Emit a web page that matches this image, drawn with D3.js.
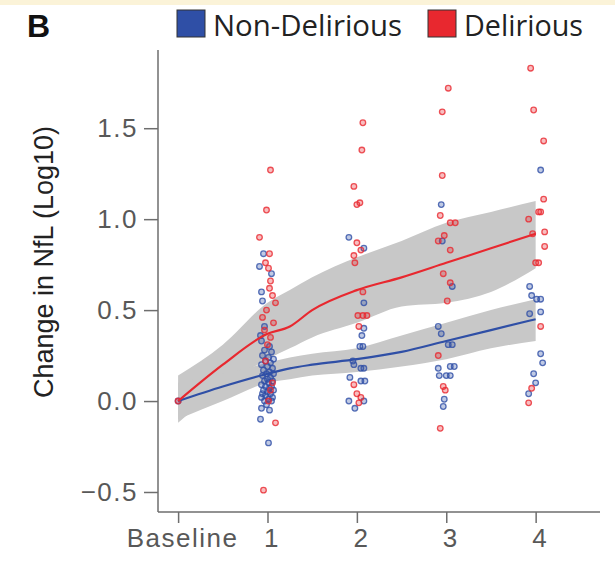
<!DOCTYPE html>
<html lang="en">
<head>
  <meta charset="UTF-8">
  <title>Change in NfL by delirium status</title>
  <style>
    body { margin: 0; background: #fff; }
    svg { display: block; }
  </style>
</head>
<body>
  <svg id="chart" width="615" height="567"></svg>

  <script src="https://d3js.org/d3.v7.min.js"></script>
  <script>
    // visit ticks (0 = baseline)
    const timeTicks = [0, 1, 2, 3, 4];
    const timeLabels = ["Baseline", "1", "2", "3", "4"];
    const yTicks = [-0.5, 0, 0.5, 1.0, 1.5];

    // smoothed fit with confidence band
    const fitTimes   = [0, 0.5, 1, 1.25, 1.5, 2, 2.5, 3, 3.5, 4];
    const redFit     = [0, 0.2, 0.37, 0.41, 0.5, 0.61, 0.68, 0.76, 0.84, 0.92];
    const redLow     = [-0.12, 0.08, 0.23, 0.29, 0.35, 0.43, 0.52, 0.54, 0.6, 0.73];
    const redHigh    = [0.14, 0.31, 0.54, 0.61, 0.68, 0.79, 0.88, 0.98, 1.04, 1.1];
    const blueFit    = [0, 0.08, 0.15, 0.18, 0.2, 0.23, 0.27, 0.33, 0.39, 0.45];
    const blueLow    = [-0.1, 0.0, 0.1, 0.12, 0.14, 0.16, 0.19, 0.23, 0.29, 0.33];
    const blueHigh   = [0.1, 0.15, 0.21, 0.24, 0.26, 0.29, 0.36, 0.43, 0.5, 0.56];

    // points: [visit, jitter (px), change]
    const redPoints = [
      [0, 0, 0],
      [1, 3, 1.27], [1, -1, 1.05], [1, -8, 0.9], [1, 2, 0.81], [1, -2, 0.76], [1, 1, 0.73],
      [1, 3, 0.66], [1, 2, 0.62], [1, 5, 0.58], [1, 8, 0.54], [1, -1, 0.5], [1, -5, 0.46],
      [1, 6, 0.43], [1, -3, 0.39], [1, 3, 0.35], [1, 0, 0.31], [1, -2, 0.22], [1, 5, 0.1],
      [1, 3, 0.06], [1, 1, 0.0], [1, 8, -0.12], [1, -4, -0.49],
      [2, 6, 1.53], [2, 5, 1.38], [2, -3, 1.18], [2, 0, 1.08], [2, 3, 1.09], [2, 0, 0.87],
      [2, 4, 0.83], [2, -3, 0.8], [2, -2, 0.76], [2, 6, 0.6], [2, 1, 0.47], [2, 6, 0.47],
      [2, 10, 0.47], [2, 2, 0.41], [2, -3, 0.09], [2, 0, 0.04], [2, 4, 0.02], [2, 2, -0.01],
      [3, 2, 1.72], [3, -4, 1.59], [3, -4, 1.24], [3, -6, 1.02], [3, 4, 0.98], [3, 9, 0.98],
      [3, -2, 0.91], [3, -8, 0.88], [3, 4, 0.83], [3, -3, 0.7], [3, 4, 0.65], [3, 1, 0.55],
      [3, -8, 0.25], [3, -3, 0.08], [3, -1, 0.06], [3, -6, -0.15],
      [4, -5, 1.83], [4, -2, 1.6], [4, 8, 1.43], [4, 8, 1.11], [4, 5, 1.04], [4, 3, 1.04],
      [4, -7, 1.0], [4, -3, 0.92], [4, 9, 0.93], [4, 9, 0.85], [4, 0, 0.76], [4, 3, 0.76],
      [4, 5, 0.41], [4, -4, 0.07], [4, -7, -0.01]
    ];
    const bluePoints = [
      [0, 0, 0],
      [1, -4, 0.81], [1, -8, 0.74], [1, 4, 0.7], [1, -6, 0.6], [1, -5, 0.55], [1, -3, 0.41],
      [1, -7, 0.36], [1, -6, 0.33], [1, 2, 0.3], [1, -3, 0.28], [1, 4, 0.27], [1, -5, 0.25],
      [1, 1, 0.24], [1, 6, 0.23], [1, -2, 0.22], [1, 3, 0.21], [1, -6, 0.2], [1, 0, 0.19],
      [1, 5, 0.18], [1, -4, 0.17], [1, 2, 0.16], [1, -1, 0.15], [1, 6, 0.15], [1, -5, 0.14],
      [1, 3, 0.13], [1, 0, 0.12], [1, -3, 0.11], [1, 5, 0.11], [1, 1, 0.1], [1, -6, 0.09],
      [1, 4, 0.08], [1, -2, 0.08], [1, 2, 0.07], [1, -4, 0.06], [1, 6, 0.06], [1, 0, 0.05],
      [1, -5, 0.04], [1, 3, 0.04], [1, -2, 0.03], [1, 5, 0.02], [1, -6, 0.02], [1, 1, 0.01],
      [1, -3, 0.0], [1, 4, 0.0], [1, -1, -0.02], [1, -6, -0.04], [1, 2, -0.05], [1, -7, -0.1],
      [1, 1, -0.23],
      [2, -8, 0.9], [2, 7, 0.84], [2, 7, 0.54], [2, 7, 0.4], [2, 5, 0.36], [2, 3, 0.3],
      [2, 6, 0.3], [2, -4, 0.22], [2, -3, 0.2], [2, 4, 0.18], [2, 7, 0.18], [2, -7, 0.13],
      [2, 4, 0.11], [2, 8, 0.11], [2, 7, 0.0], [2, -8, 0.0], [2, -2, -0.04],
      [3, -5, 1.08], [3, -4, 0.88], [3, 6, 0.63], [3, -8, 0.41], [3, -5, 0.37], [3, 6, 0.31],
      [3, 2, 0.31], [3, -8, 0.18], [3, 4, 0.19], [3, 8, 0.19], [3, -7, 0.14], [3, 0, 0.14],
      [3, 4, 0.14], [3, -2, 0.01], [3, -3, -0.03],
      [4, 5, 1.27], [4, -6, 0.63], [4, -4, 0.58], [4, 1, 0.56], [4, 5, 0.56], [4, 5, 0.49],
      [4, -6, 0.48], [4, 5, 0.26], [4, 7, 0.21], [4, -2, 0.15], [4, 0, 0.1], [4, -7, 0.04]
    ];

    const red = "#e8282f", blue = "#2f4fa6";
    const font = "'Liberation Sans', Arial, sans-serif";
    const svg = d3.select("#chart");

    // thin pale strip along the top of the figure
    svg.append("rect").attr("x", 0).attr("y", 0).attr("width", 615).attr("height", 5)
      .attr("fill", "#fbf3d8");

    const x = d3.scaleLinear().domain([-0.225, 4.72]).range([158, 600]);
    const y = d3.scaleLinear().domain([-0.61, 1.93]).range([512, 50]);

    // bands
    function band(low, high) {
      return d3.area()
        .x((d, i) => x(fitTimes[i]))
        .y0((d, i) => y(low[i]))
        .y1((d, i) => y(high[i]))
        .curve(d3.curveMonotoneX)(fitTimes);
    }
    svg.append("path").attr("d", band(redLow, redHigh)).attr("fill", "#c8c8c8");
    svg.append("path").attr("d", band(blueLow, blueHigh)).attr("fill", "#c8c8c8");

    // points
    function drawPoints(pts, color) {
      svg.append("g").selectAll("circle").data(pts).join("circle")
        .attr("cx", d => x(d[0]) + d[1])
        .attr("cy", d => y(d[2]))
        .attr("r", 2.8)
        .attr("fill", color).attr("fill-opacity", 0.3)
        .attr("stroke", color).attr("stroke-opacity", 0.8).attr("stroke-width", 1.3);
    }
    drawPoints(bluePoints, blue);
    drawPoints(redPoints, red);

    // fit lines
    const line = vals => d3.line()
      .x((d, i) => x(fitTimes[i]))
      .y((d, i) => y(vals[i]))
      .curve(d3.curveMonotoneX)(fitTimes);
    svg.append("path").attr("d", line(blueFit)).attr("fill", "none")
      .attr("stroke", blue).attr("stroke-width", 2.2);
    svg.append("path").attr("d", line(redFit)).attr("fill", "none")
      .attr("stroke", red).attr("stroke-width", 2.2);

    // axes
    const axisColor = "#6e6e6e";
    const yAxis = svg.append("g").attr("transform", "translate(158,0)")
      .call(d3.axisLeft(y).tickValues(yTicks).tickSize(14).tickPadding(6)
        .tickFormat(d => d < 0 ? "\u2212" + Math.abs(d).toFixed(1) : d.toFixed(1)));
    const xAxis = svg.append("g").attr("transform", "translate(0,512)")
      .call(d3.axisBottom(x).tickValues(timeTicks).tickSize(11).tickPadding(6)
        .tickFormat((d, i) => timeLabels[i]));
    [yAxis, xAxis].forEach(g => {
      g.select(".domain").attr("stroke", axisColor).attr("stroke-width", 1.5);
      g.selectAll(".tick line").attr("stroke", axisColor).attr("stroke-width", 1.5);
      g.selectAll(".tick text").attr("fill", "#585858")
        .attr("font-family", font).attr("font-size", 26).attr("letter-spacing", 1.5);
    });
    xAxis.selectAll(".tick text").attr("dx", 4);
    xAxis.select(".domain").attr("d", "M158,0H600");
    yAxis.select(".domain").attr("d", "M0,50V512");

    svg.append("text")
      .attr("transform", "translate(53,262) rotate(-90)")
      .attr("text-anchor", "middle")
      .attr("font-family", font)
      .attr("font-size", 27).attr("fill", "#222")
      .text("Change in NfL (Log10)");

    // panel letter and legend
    svg.append("text").attr("x", 27).attr("y", 37)
      .attr("font-family", font)
      .attr("font-weight", "bold").attr("font-size", 32).attr("fill", "#111")
      .text("B");

    const legend = [
      { label: "Non-Delirious", color: blue, box: 177, text: 213, w: 189 },
      { label: "Delirious", color: red, box: 428, text: 464, w: 119 }
    ];
    legend.forEach(l => {
      svg.append("rect").attr("x", l.box).attr("y", 10).attr("width", 28).attr("height", 27)
        .attr("fill", l.color).attr("stroke", "#333").attr("stroke-width", 1);
      svg.append("text").attr("x", l.text).attr("y", 36)
        .attr("font-family", "'Open Sans', 'Noto Sans', sans-serif")
        .attr("font-size", 29).attr("fill", "#222")
        .attr("textLength", l.w).attr("lengthAdjust", "spacingAndGlyphs")
        .text(l.label);
    });
  </script>
</body>
</html>
